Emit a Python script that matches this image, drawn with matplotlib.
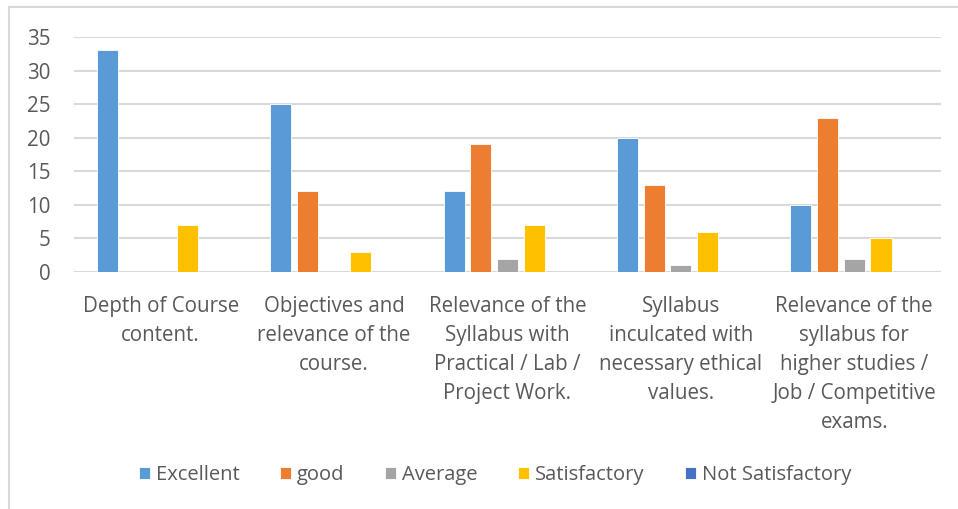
import numpy as np
import matplotlib
matplotlib.use('Agg')
import matplotlib.pyplot as plt
from matplotlib.patches import Rectangle

categories = [
    'Depth of Course\ncontent.',
    'Objectives and\nrelevance of the\ncourse.',
    'Relevance of the\nSyllabus with\nPractical / Lab /\nProject Work.',
    'Syllabus\ninculcated with\nnecessary ethical\nvalues.',
    'Relevance of the\nsyllabus for\nhigher studies /\nJob / Competitive\nexams.',
]
series_names = ['Excellent', 'good', 'Average', 'Satisfactory', 'Not Satisfactory']
excellent = [33, 25, 12, 20, 10]
good = [0, 12, 19, 13, 23]
average = [0, 0, 2, 1, 2]
satisfactory = [7, 3, 7, 6, 5]
not_satisfactory = [0, 0, 0, 0, 0]
colors = ['#5B9BD5', '#ED7D31', '#A5A5A5', '#FFC000', '#4472C4']

TEXT = '#595959'
plt.rcParams['font.family'] = ['Open Sans', 'DejaVu Sans']

fig = plt.figure(figsize=(9.58, 5.09), dpi=100)
ax = fig.add_axes([74 / 958, 1 - 272 / 509, 867 / 958, 235 / 509])

x = np.arange(len(categories))
step = 0.154
width = 0.122
all_series = [excellent, good, average, satisfactory, not_satisfactory]
for i, (vals, name, c) in enumerate(zip(all_series, series_names, colors)):
    ax.bar(x + (i - 2) * step, vals, width, color=c, label=name,
           edgecolor='white', linewidth=0.6, zorder=3)

ax.set_xlim(-0.5, 4.5)
ax.set_ylim(0, 35)
ax.set_yticks(range(0, 36, 5))
ax.grid(axis='y', color='#D9D9D9', linewidth=1.5, zorder=0)
for s in ax.spines.values():
    s.set_visible(False)
ax.tick_params(axis='both', length=0, colors=TEXT, labelsize=14.8)
ax.tick_params(axis='y', pad=17)
ax.tick_params(axis='x', pad=17.5)
ax.set_xticks(x)
ax.set_xticklabels(categories, linespacing=1.5, color=TEXT)

leg = fig.legend(loc='center', bbox_to_anchor=(495 / 958, 1 - 475 / 509), ncol=5,
                 frameon=False, fontsize=14.5, handlelength=0.55, handleheight=0.55,
                 handletextpad=0.3, columnspacing=2.0)
for t in leg.get_texts():
    t.set_color(TEXT)

fig.patches.append(Rectangle((9 / 958, -0.1), 1.2, 1 - 7 / 509 + 0.1,
                             transform=fig.transFigure, fill=False,
                             edgecolor='#D9D9D9', linewidth=1.5))

fig.savefig('out.png', dpi=100)
